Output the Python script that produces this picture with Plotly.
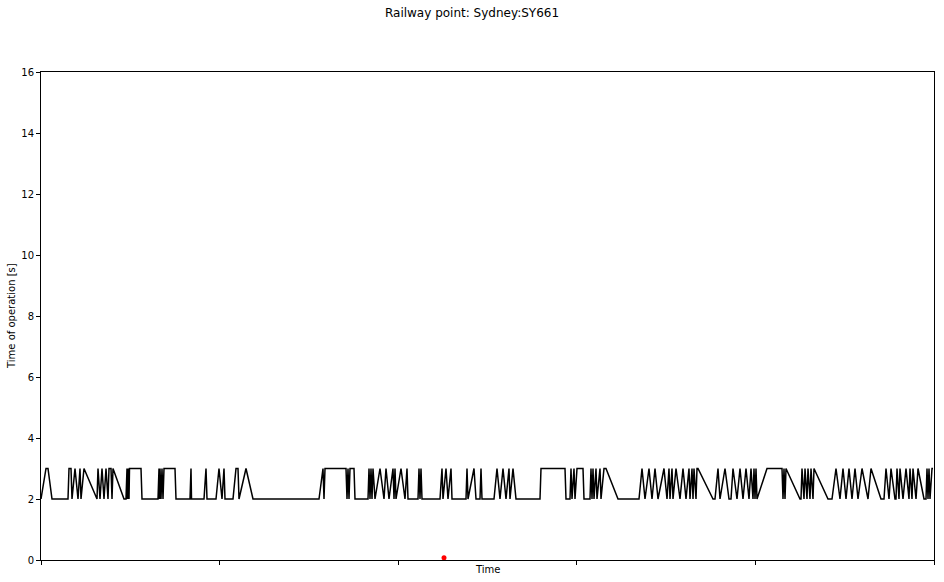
import plotly.graph_objects as go

# time in hours from start of record, operation time in seconds
time_h = [
    0, 5, 7, 11, 27, 28, 30, 31, 34, 37, 39, 40, 43, 56, 57, 59, 61, 63, 65, 67, 68, 70, 71,
    72, 83, 85, 86, 86.5, 87, 88, 88.5, 100, 101, 117, 118, 118.5, 119, 120, 121, 122, 123, 134, 135,
    149, 150, 150.5, 163, 165, 166, 175, 178, 181, 183, 184, 192, 195, 197, 198, 205, 212,
    278, 282, 283, 284, 305, 306, 307, 308, 309, 313, 314, 327, 328, 329, 330, 331, 332, 334,
    339, 343, 345, 348, 352, 353, 354, 355, 360, 364, 366, 367, 377, 378, 379, 380, 381,
    399, 401, 402, 405, 407, 410, 411, 425, 426, 427, 433, 435, 439, 440, 441, 453, 456, 459,
    462, 465, 468, 469, 472, 475, 499, 500, 524, 525, 529, 530, 531, 533, 534, 536, 542, 543,
    549, 550, 551, 552, 553, 555, 556, 559, 560, 563, 565, 577, 598, 601, 604, 608, 611, 614,
    617, 623, 626, 628, 629, 631, 632, 635, 639, 642, 645, 648, 649, 651, 652, 653, 655, 656,
    657, 672, 674, 677, 679, 684, 688, 690, 692, 696, 699, 702, 705, 708, 710, 712, 713, 714,
    715, 716, 726, 741, 742, 743, 744, 745, 759, 760, 761, 763, 764, 766, 767, 769, 770, 772,
    773, 787, 791, 795, 799, 802, 805, 808, 811, 814, 817, 821, 827, 830, 840, 843, 845, 848,
    850, 854, 855, 856, 858, 859, 862, 865, 868, 869, 871, 872, 875, 877, 883, 885, 886, 887,
    888, 889, 891, 892,
]
op_time_s = [
    2, 3, 3, 2, 2, 3, 3, 2, 3, 2, 3, 2, 3, 2, 3, 2, 3, 2, 3, 2, 3, 3, 2,
    3, 2, 2, 3, 2, 3, 2, 3, 3, 2, 2, 3, 2, 3, 2, 3, 2, 3, 3, 2,
    2, 3, 2, 2, 3, 2, 2, 3, 2, 3, 2, 2, 3, 3, 2, 3, 2,
    2, 3, 2, 3, 3, 2, 3, 2, 3, 3, 2, 2, 3, 2, 3, 2, 3, 2,
    3, 2, 3, 2, 3, 2, 3, 2, 3, 2, 3, 2, 2, 3, 2, 3, 2,
    2, 3, 2, 3, 2, 3, 2, 2, 3, 2, 3, 2, 2, 3, 2, 2, 3, 2,
    3, 2, 3, 2, 3, 2, 2, 3, 3, 2, 2, 3, 2, 3, 2, 3, 3, 2,
    2, 3, 2, 3, 2, 3, 2, 3, 2, 3, 3, 2, 2, 3, 2, 3, 2, 3,
    2, 3, 2, 3, 2, 3, 2, 3, 2, 3, 2, 3, 2, 3, 2, 3, 2, 3,
    3, 2, 2, 3, 2, 3, 2, 2, 3, 2, 3, 2, 3, 2, 3, 2, 3, 2,
    3, 2, 3, 3, 2, 3, 2, 3, 2, 2, 3, 2, 3, 2, 3, 2, 3, 2,
    3, 2, 2, 3, 2, 3, 2, 3, 2, 3, 2, 3, 2, 3, 2, 2, 3, 2,
    3, 2, 2, 3, 2, 3, 2, 3, 2, 3, 2, 3, 2, 3, 2, 2, 3, 2,
    3, 2, 3, 3,
]
# highlighted event
event_time_h = [403]
event_value_s = [0.07]

x_range = [0, 893]
x_ticks = [0, 178.6, 357.2, 535.8, 714.4, 893]
y_ticks = [0, 2, 4, 6, 8, 10, 12, 14, 16]

fig = go.Figure()
fig.add_trace(go.Scatter(x=time_h, y=op_time_s, mode="lines",
                         line=dict(color="black", width=1.5), showlegend=False,
                         hoverinfo="skip"))
fig.add_trace(go.Scatter(x=event_time_h, y=event_value_s, mode="markers",
                         marker=dict(color="red", size=5), showlegend=False,
                         cliponaxis=False))

axis_font = dict(family="DejaVu Sans", size=10, color="black")
fig.update_layout(
    width=944, height=582,
    margin=dict(l=41, r=10, t=72, b=22),
    plot_bgcolor="white", paper_bgcolor="white",
    font=axis_font,
    title=dict(text="Railway point: Sydney:SY661", x=0.5, xanchor="center",
               y=1 - 13 / 582, yanchor="middle", yref="container",
               font=dict(family="DejaVu Sans", size=12, color="black")),
    xaxis=dict(range=x_range, tickvals=x_ticks, ticktext=[""] * len(x_ticks),
               ticks="outside", ticklen=4, tickcolor="black", showgrid=False,
               zeroline=False, showline=True, linecolor="black", linewidth=1,
               mirror=True),
    yaxis=dict(range=[0, 16], tickvals=y_ticks, ticks="outside", ticklen=4,
               tickcolor="black", showgrid=False, zeroline=False, showline=True,
               linecolor="black", linewidth=1, mirror=True, tickfont=axis_font),
    annotations=[
        dict(text="Time", xref="paper", yref="paper", x=0.5, y=-9 / 488,
             xanchor="center", yanchor="middle", showarrow=False, font=axis_font),
        dict(text="Time of operation [s]", xref="paper", yref="paper",
             x=-30 / 893, y=0.5, xanchor="center", yanchor="middle",
             textangle=-90, showarrow=False, font=axis_font),
    ],
)
fig.write_html("out.html")
